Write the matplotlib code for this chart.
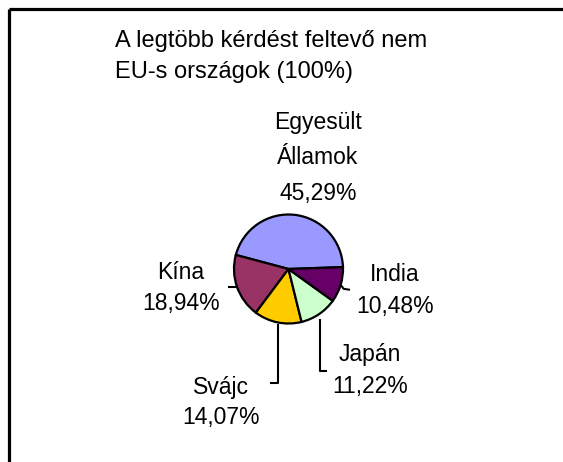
import numpy as np
import matplotlib.pyplot as plt

# data
countries = ["Egyesült\nÁllamok", "Kína", "Svájc", "Japán", "India"]
shares = [45.29, 18.94, 14.07, 11.22, 10.48]
colors = ["#9999FF", "#993366", "#FFCC00", "#CCFFCC", "#660066"]
title = "A legtöbb kérdést feltevő nem\nEU-s országok (100%)"

W, H = 563, 462
plt.rcParams['font.family'] = ['Liberation Sans', 'DejaVu Sans']

fig = plt.figure(figsize=(W / 100, H / 100), dpi=100)
ax = fig.add_axes([0, 0, 1, 1])

cx, cy, r = 288.5, H - 269, 54.5
wedges, _ = ax.pie(shares, colors=colors, startangle=2, counterclock=True,
                   center=(cx, cy), radius=r, frame=True,
                   wedgeprops=dict(edgecolor='black', linewidth=1.6))
ax.set_xlim(0, W)
ax.set_ylim(0, H)
ax.set_aspect('equal')
ax.axis('off')

def edge_point(w):
    a = np.deg2rad((w.theta1 + w.theta2) / 2)
    return cx + r * np.cos(a), cy + r * np.sin(a)

# label anchor: centre x, baseline of last line (pixels from top)
fs = 16.5
label_pos = [(318, 200), (181, 310), (221, 424), (370, 393), (395, 313)]
spacing = [1.7, 1.45, 1.4, 1.5, 1.5]
for name, val, (lx, ly), ls in zip(countries, shares, label_pos, spacing):
    txt = f"{name}\n{val:.2f}%".replace('.', ',')
    ax.text(lx, H - ly, txt, ha='center', va='baseline', fontsize=fs,
            linespacing=ls)

lc = dict(color='black', linewidth=1.5, solid_capstyle='butt')
# Kína
x0, y0 = edge_point(wedges[1])
ax.plot([x0, 228], [y0, y0], **lc)
# Svájc
x0, y0 = edge_point(wedges[2])
ax.plot([x0, x0, 270], [y0 - 2, H - 383, H - 383], **lc)
# Japán
x0, y0 = edge_point(wedges[3])
ax.plot([x0 + 1, x0 + 1, 327], [y0 - 5, H - 371, H - 371], **lc)
# India
x0, y0 = edge_point(wedges[4])
ax.plot([x0, x0 + 3, 350], [y0, y0 - 4, y0 - 5], **lc)

ax.text(115, H - 78, title, ha='left', va='baseline', fontsize=17,
        linespacing=1.55)

# chart frame (top and left edges only)
ax.plot([9, W], [H - 9, H - 9], color='black', linewidth=2.3,
        solid_capstyle='butt', clip_on=False)
ax.plot([9, 9], [H - 9, 0], color='black', linewidth=2.3,
        solid_capstyle='butt', clip_on=False)

fig.savefig("out.png", dpi=100)
